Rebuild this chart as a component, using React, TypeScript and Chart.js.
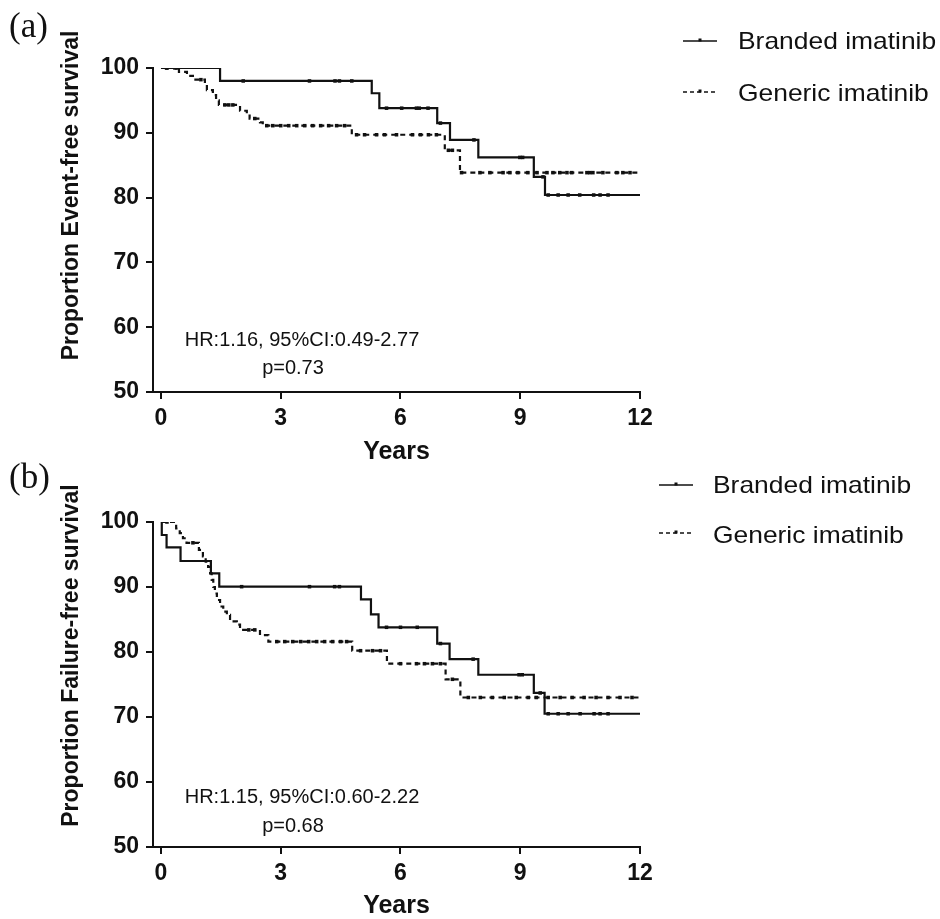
import React, { useEffect, useRef } from 'react';
import { Chart, registerables } from 'chart.js';

Chart.register(...registerables);

// ---------- data ----------
const xTickValues = [0, 3, 6, 9, 12];
const seriesLabels = ['Branded imatinib', 'Generic imatinib'];

// Panel (a): event-free survival
const aBrandedTimes = [0, 1.48, 5.28, 5.47, 6.92, 7.24, 7.95, 9.34, 9.62, 12];
const aBrandedSurv = [100, 98.0, 96.1, 93.8, 91.5, 88.9, 86.2, 83.2, 80.4, 80.4];
const aBrandedCensor = [0.14, 0.4, 2.06, 3.72, 4.36, 4.47, 4.78, 5.65, 6.03, 6.4, 6.47, 6.69, 7.0, 7.84, 8.99, 9.06, 9.57, 9.7, 9.95, 10.2, 10.49, 10.84, 11.0, 11.2];
const aGenericTimes = [0, 0.45, 0.65, 0.8, 1.1, 1.15, 1.3, 1.38, 1.45, 1.98, 2.15, 2.22, 2.48, 2.55, 4.78, 7.11, 7.49, 12];
const aGenericSurv = [100, 99.4, 98.8, 98.2, 97.6, 96.6, 95.8, 95.0, 94.3, 93.4, 92.9, 92.2, 91.6, 91.1, 89.7, 87.3, 83.85, 83.85];
const aGenericCensor = [0.15, 0.35, 1.0, 1.6, 1.7, 1.8, 2.35, 2.65, 2.8, 3.0, 3.2, 3.4, 3.6, 3.8, 4.0, 4.2, 4.4, 4.6, 4.9, 5.1, 5.4, 5.6, 5.9, 6.3, 6.5, 6.7, 6.9, 7.2, 7.3, 7.53, 7.99, 8.24, 8.57, 8.74, 8.94, 9.19, 9.42, 9.67, 9.82, 9.99, 10.17, 10.29, 10.67, 10.74, 10.82, 11.07, 11.42, 11.57, 11.75];
const aStats = ['HR:1.16, 95%CI:0.49-2.77', 'p=0.73'];

// Panel (b): failure-free survival
const bBrandedTimes = [0, 0.02, 0.14, 0.49, 1.25, 1.46, 5.01, 5.26, 5.45, 6.92, 7.23, 7.95, 9.34, 9.61, 12];
const bBrandedSurv = [100, 98.0, 96.1, 94.0, 92.1, 90.05, 88.1, 85.8, 83.8, 81.3, 78.9, 76.5, 73.7, 70.5, 70.5];
const bBrandedCensor = [2.02, 3.72, 4.35, 4.47, 5.65, 6.0, 6.42, 7.0, 7.82, 8.97, 9.05, 9.5, 9.7, 9.95, 10.2, 10.5, 10.85, 11.0, 11.2];
const bGenericTimes = [0, 0.38, 0.47, 0.55, 0.64, 0.95, 1.05, 1.12, 1.18, 1.23, 1.27, 1.31, 1.35, 1.4, 1.48, 1.56, 1.65, 1.73, 1.9, 1.98, 2.48, 2.69, 4.79, 5.66, 7.13, 7.5, 12];
const bGenericSurv = [100, 99.0, 98.3, 97.5, 96.8, 95.7, 94.7, 93.9, 93.1, 92.1, 91.1, 90.0, 89.0, 88.0, 87.0, 86.2, 85.7, 84.7, 84.2, 83.4, 82.6, 81.6, 80.2, 78.2, 75.8, 73.0, 73.0];
const bGenericCensor = [0.15, 0.8, 2.2, 2.35, 2.9, 3.1, 3.3, 3.5, 3.7, 3.9, 4.1, 4.3, 4.5, 4.65, 5.0, 5.3, 5.5, 6.0, 6.4, 6.6, 6.8, 7.0, 7.3, 7.7, 8.0, 8.3, 8.6, 8.9, 9.2, 9.4, 9.7, 10.0, 10.3, 10.6, 10.9, 11.2, 11.5, 11.8];
const bStats = ['HR:1.15, 95%CI:0.60-2.22', 'p=0.68'];

// ---------- helpers ----------
const INK = '#111111';
const SANS = '"Liberation Sans", Arial, Helvetica, sans-serif';

function survAt(times: number[], surv: number[], t: number) {
  let v = surv[0];
  for (let i = 0; i < times.length; i++) if (times[i] <= t) v = surv[i];
  return v;
}

function curveDatasets(times: number[], surv: number[], censor: number[], label: string, dash: number[]) {
  return [
    {
      label,
      isCurve: true,
      data: times.map((t, i) => ({ x: t, y: surv[i] })),
      borderColor: INK,
      backgroundColor: INK,
      borderWidth: 2.2,
      borderDash: dash,
      stepped: 'before',
      pointRadius: 0,
      fill: false,
    },
    {
      label: label + ' censored',
      isCurve: false,
      data: censor.map((t) => ({ x: t, y: survAt(times, surv, t) })),
      showLine: false,
      pointStyle: 'rect',
      pointRadius: 2.5,
      borderWidth: 0,
      backgroundColor: INK,
      borderColor: INK,
    },
  ];
}

type Overlay = {
  panel: string; panelY: number;
  yTitle: string; yTitleY: number;
  stats: string[]; statsY: number[];
  legendLineX: [number, number]; legendTextX: number;
  legendLineY: number[]; legendTextY: number[];
};

function overlayPlugin(o: Overlay) {
  return {
    id: 'overlay',
    afterDraw(chart: any) {
      const ctx = chart.ctx;
      ctx.save();
      ctx.fillStyle = INK;
      ctx.strokeStyle = INK;
      // panel label
      ctx.font = '35px "Liberation Serif", "Times New Roman", serif';
      ctx.textAlign = 'left';
      ctx.textBaseline = 'alphabetic';
      ctx.fillText(o.panel, 9, o.panelY);
      // y-axis title
      ctx.save();
      ctx.translate(72, o.yTitleY);
      ctx.rotate(-Math.PI / 2);
      ctx.font = 'bold 23px ' + SANS;
      ctx.textAlign = 'center';
      ctx.textBaseline = 'middle';
      ctx.fillText(o.yTitle, 0, 0);
      ctx.restore();
      // statistics
      ctx.font = '20px ' + SANS;
      ctx.textAlign = 'center';
      ctx.textBaseline = 'middle';
      ctx.fillText(o.stats[0], 302, o.statsY[0]);
      ctx.fillText(o.stats[1], 293, o.statsY[1]);
      // legend
      const curves = chart.data.datasets.filter((d: any) => d.isCurve);
      curves.forEach((d: any, i: number) => {
        const y = o.legendLineY[i];
        ctx.save();
        ctx.lineWidth = 1.6;
        ctx.setLineDash(d.borderDash && d.borderDash.length ? [4, 3] : []);
        ctx.beginPath();
        ctx.moveTo(o.legendLineX[0], y);
        ctx.lineTo(o.legendLineX[1], y);
        ctx.stroke();
        ctx.setLineDash([]);
        const mx = (o.legendLineX[0] + o.legendLineX[1]) / 2;
        ctx.fillRect(mx - 1.5, y - 2.5, 3, 3);
        ctx.restore();
        ctx.save();
        ctx.translate(o.legendTextX, o.legendTextY[i]);
        ctx.scale(1.1, 1);
        ctx.font = '24px ' + SANS;
        ctx.textAlign = 'left';
        ctx.textBaseline = 'middle';
        ctx.fillText(d.label, 0, 0);
        ctx.restore();
      });
      ctx.restore();
    },
  };
}

function makeConfig(datasets: any[], top: number, xHeight: number, titlePadBottom: number, overlay: Overlay) {
  const tickFont = { family: SANS, size: 23, weight: 'bold' as const };
  return {
    type: 'line' as const,
    data: { datasets },
    plugins: [overlayPlugin(overlay)],
    options: {
      responsive: false,
      animation: false as const,
      events: [],
      layout: { padding: { left: 55, top, right: 300, bottom: 0 } },
      plugins: { legend: { display: false }, tooltip: { enabled: false } },
      scales: {
        x: {
          type: 'linear' as const,
          min: -0.2,
          max: 12,
          afterBuildTicks: (s: any) => { s.ticks = xTickValues.map((v) => ({ value: v })); },
          afterFit: (s: any) => { s.height = xHeight; },
          grid: { drawOnChartArea: false, drawTicks: true, tickLength: 7, lineWidth: 2, color: INK },
          border: { display: true, width: 2, color: INK },
          ticks: { font: tickFont, color: INK, padding: 6, maxRotation: 0 },
          title: {
            display: true, text: 'Years', color: INK,
            font: { family: SANS, size: 25, weight: 'bold' as const, lineHeight: 1 },
            padding: { top: 0, bottom: titlePadBottom },
          },
        },
        y: {
          type: 'linear' as const,
          min: 50,
          max: 100,
          afterFit: (s: any) => { s.width = 98; },
          grid: { drawOnChartArea: false, drawTicks: true, tickLength: 7, lineWidth: 2, color: INK },
          border: { display: true, width: 2, color: INK },
          ticks: { font: tickFont, color: INK, padding: 7, stepSize: 10 },
        },
      },
    },
  };
}

function KMChart({ config, top }: { config: any; top: number }) {
  const ref = useRef<HTMLCanvasElement | null>(null);
  useEffect(() => {
    if (!ref.current) return;
    const chart = new Chart(ref.current, config);
    return () => chart.destroy();
  }, [config]);
  return (
    <canvas
      ref={ref}
      width={940}
      height={470}
      style={{ position: 'absolute', left: 0, top, width: 940, height: 470 }}
    />
  );
}

const configA = makeConfig(
  [
    ...curveDatasets(aBrandedTimes, aBrandedSurv, aBrandedCensor, seriesLabels[0], []),
    ...curveDatasets(aGenericTimes, aGenericSurv, aGenericCensor, seriesLabels[1], [5, 4]),
  ],
  68, 78, 5.5,
  {
    panel: '(a)', panelY: 37,
    yTitle: 'Proportion Event-free survival', yTitleY: 195.5,
    stats: aStats, statsY: [340, 368],
    legendLineX: [683, 717], legendTextX: 738,
    legendLineY: [41, 92], legendTextY: [42, 94],
  }
);

const configB = makeConfig(
  [
    ...curveDatasets(bBrandedTimes, bBrandedSurv, bBrandedCensor, seriesLabels[0], []),
    ...curveDatasets(bGenericTimes, bGenericSurv, bGenericCensor, seriesLabels[1], [5, 4]),
  ],
  73, 72, 0,
  {
    panel: '(b)', panelY: 39,
    yTitle: 'Proportion Failure-free survival', yTitleY: 206.5,
    stats: bStats, statsY: [348, 377],
    legendLineX: [659, 693], legendTextX: 713,
    legendLineY: [36, 84], legendTextY: [37, 87],
  }
);

export default function App() {
  return (
    <div style={{ position: 'absolute', left: 0, top: 0, width: 940, height: 919, background: '#ffffff' }}>
      <KMChart config={configA} top={0} />
      <KMChart config={configB} top={449} />
    </div>
  );
}
